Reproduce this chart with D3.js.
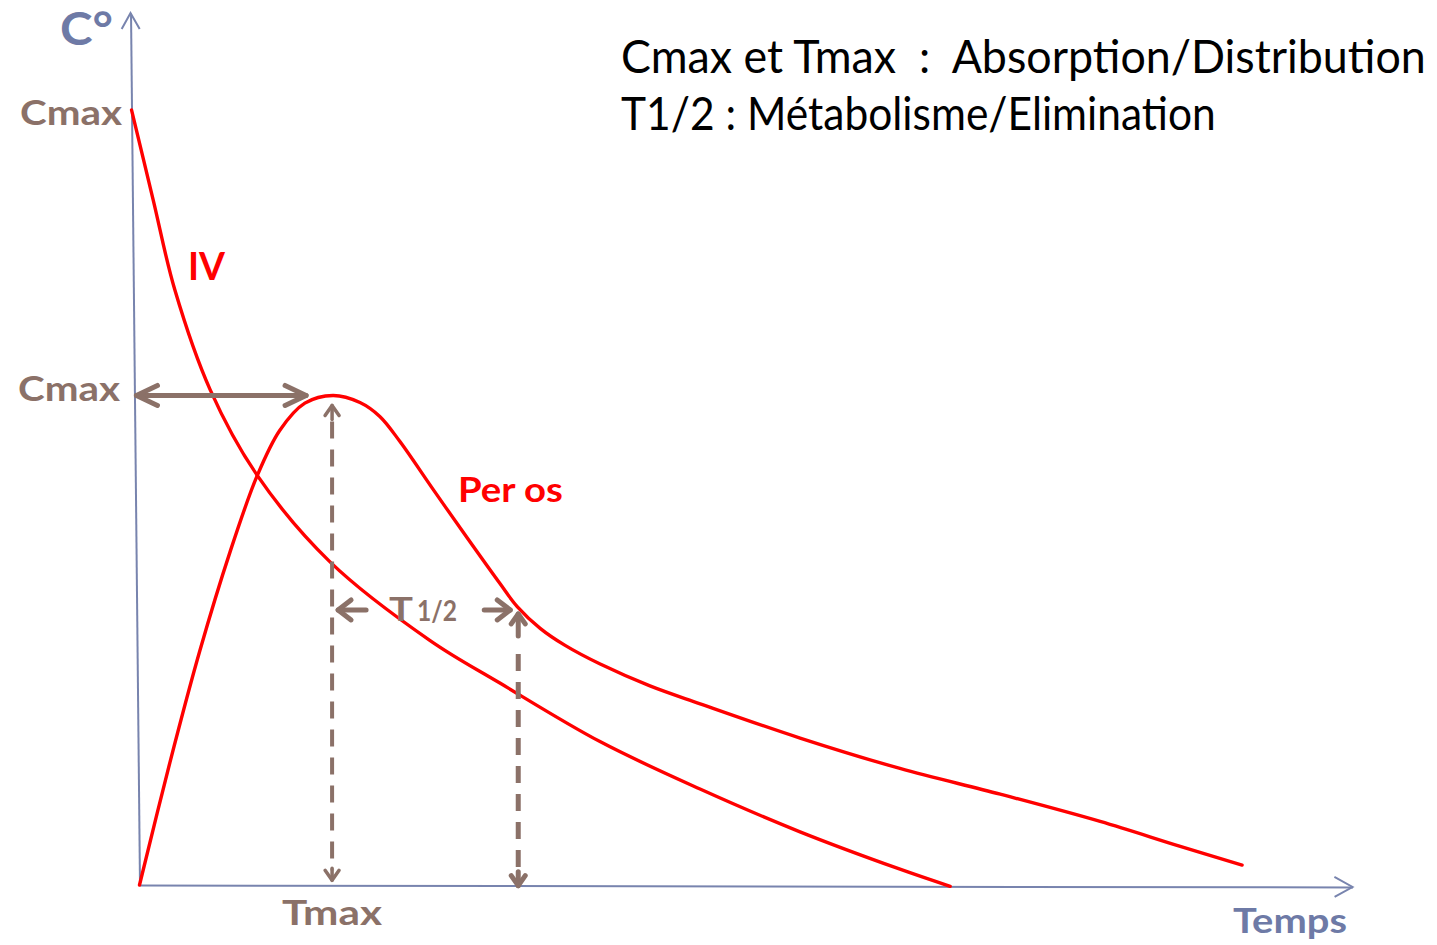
<!DOCTYPE html>
<html><head><meta charset="utf-8">
<script src="https://cdn.jsdelivr.net/npm/d3@7"></script>
<style>html,body{margin:0;padding:0;background:#fff;}svg{display:block;}</style>
</head><body>
<svg id="chart" width="1437" height="945"></svg>
<script>
// ---- data (time in h, concentration in arbitrary units) ----
const ivTime  = [0, 0.41, 0.82, 1.50, 2.41, 3.84, 5.80, 7.18, 9.14, 11.11, 13.08, 15.05, 16.04];
const ivConc  = [100, 88.4, 76.8, 63.9, 52.9, 41.7, 31.6, 26.1, 18.6, 12.5, 7.0, 2.2, 0];
const poTime  = [0, 0.63, 1.24, 1.86, 2.41, 2.87, 3.37, 3.93, 4.46, 4.85, 5.24, 5.89, 6.55, 7.19, 7.53, 7.98, 8.47, 9.16, 10.14, 11.13, 13.10, 15.07, 17.05, 19.02, 20.60, 21.82];
const poConc  = [0, 15.9, 30.2, 43.0, 52.8, 58.7, 62.2, 63.2, 62.3, 60.5, 57.3, 51.1, 44.9, 39.0, 36.0, 33.2, 31.0, 28.6, 25.8, 23.5, 19.1, 15.2, 11.9, 8.4, 5.2, 2.8];
const seriesLabels = ["IV", "Per os"];
const axisLabels = ["C°", "Temps"];
const tmax = 3.93, cmaxPO = 63.2, cmaxIV = 100, tHalf = 7.55, halfLevel = 35.7;
const titleLines = ["Cmax et Tmax  :  Absorption/Distribution", "T1/2 : Métabolisme/Elimination"];

// ---- layout ----
const ox = 139.5, oy = 885, kx = 0.0103, ky = 0.00165;
const x = d3.scaleLinear().domain([0, 24]).range([0, 1213]);
const y = d3.scaleLinear().domain([0, 112.5]).range([0, -872]);
const P = (t, c) => { const lx = x(t), ly = y(c); return [ox + lx + kx * ly, oy + ly + ky * lx]; };

const RED = "#ff0000", BROWN = "#8b7168", BLUE = "#6e7aa6", AXIS = "#7884ae";
const FONT = "Lato, 'Open Sans', sans-serif";
const svg = d3.select("#chart");

// ---- axes (skewed group, like the hand-drawn slide) ----
const g = svg.append("g").attr("transform", `matrix(1,${ky},${kx},1,${ox},${oy})`);
const xAxis = g.append("g").call(d3.axisBottom(x).tickValues([]).tickSizeOuter(0));
const yAxis = g.append("g").call(d3.axisLeft(y).tickValues([]).tickSizeOuter(0));
[xAxis, yAxis].forEach(a => a.select(".domain").attr("stroke", AXIS).attr("stroke-width", 2));
g.append("path").attr("d", `M${x(24)-18},-10 L${x(24)},0 L${x(24)-18},10`)
  .attr("fill", "none").attr("stroke", AXIS).attr("stroke-width", 2);
g.append("path").attr("d", `M-9,${y(112.5)+16} L0,${y(112.5)} L9,${y(112.5)+16}`)
  .attr("fill", "none").attr("stroke", AXIS).attr("stroke-width", 2);

// ---- curves ----
const line = d3.line().x(d => x(d[0])).y(d => y(d[1])).curve(d3.curveCatmullRom.alpha(0.5));
g.append("path").datum(ivTime.map((t, i) => [t, ivConc[i]])).attr("d", line)
  .attr("fill", "none").attr("stroke", RED).attr("stroke-width", 3.4).attr("stroke-linecap", "round");
g.append("path").datum(poTime.map((t, i) => [t, poConc[i]])).attr("d", line)
  .attr("fill", "none").attr("stroke", RED).attr("stroke-width", 3.4).attr("stroke-linecap", "round");

// ---- annotations ----
const ann = svg.append("g").attr("stroke", BROWN).attr("fill", "none").attr("stroke-linecap", "round").attr("stroke-linejoin", "round");
function chevron(tx, ty, dir, len, half, w) {
  let d;
  if (dir === 'l') d = `M${tx+len},${ty-half} L${tx},${ty} L${tx+len},${ty+half}`;
  if (dir === 'r') d = `M${tx-len},${ty-half} L${tx},${ty} L${tx-len},${ty+half}`;
  if (dir === 'u') d = `M${tx-half},${ty+len} L${tx},${ty} L${tx+half},${ty+len}`;
  if (dir === 'd') d = `M${tx-half},${ty-len} L${tx},${ty} L${tx+half},${ty-len}`;
  ann.append("path").attr("d", d).attr("stroke-width", w);
}
// Cmax horizontal double arrow
const [cx0] = P(0, cmaxPO);
const [pkx, pky] = P(tmax, cmaxPO);
const cx0s = cx0 + 2, cx1 = pkx - 27;
ann.append("line").attr("x1", cx0s).attr("x2", cx1).attr("y1", pky).attr("y2", pky).attr("stroke-width", 5);
chevron(cx0s, pky, 'l', 21, 10, 5);
chevron(cx1, pky, 'r', 21, 10, 5);

// Tmax vertical dashed
const tmX = pkx - 1, tmTop = pky + 10, tmBot = P(tmax, 0)[1] - 5;
ann.append("line").attr("x1", tmX).attr("x2", tmX).attr("y1", tmTop + 16).attr("y2", tmBot - 10)
  .attr("stroke-width", 4).attr("stroke-dasharray", "17 11").attr("stroke-linecap", "butt");
ann.append("line").attr("x1", tmX).attr("x2", tmX).attr("y1", tmTop).attr("y2", tmTop + 14).attr("stroke-width", 3.5);
ann.append("line").attr("x1", tmX).attr("x2", tmX).attr("y1", tmBot - 12).attr("y2", tmBot).attr("stroke-width", 3.5);
chevron(tmX, tmTop, 'u', 10, 7, 3.5);
chevron(tmX, tmBot, 'd', 10, 7, 3.5);

// T1/2 vertical dashed
const [hx, hy] = P(tHalf, halfLevel);
const hTop = hy + 5, hBot = P(tHalf, 0)[1];
ann.append("line").attr("x1", hx).attr("x2", hx).attr("y1", hTop + 40).attr("y2", hBot - 14)
  .attr("stroke-width", 5).attr("stroke-dasharray", "17 11").attr("stroke-linecap", "butt");
ann.append("line").attr("x1", hx).attr("x2", hx).attr("y1", hTop).attr("y2", hTop + 22).attr("stroke-width", 5);
ann.append("line").attr("x1", hx).attr("x2", hx).attr("y1", hBot - 14).attr("y2", hBot).attr("stroke-width", 5);
chevron(hx, hTop, 'u', 10, 7, 5);
chevron(hx, hBot, 'd', 10, 7, 5);

// T1/2 horizontal arrows
const ay = hy + 1;
ann.append("line").attr("x1", tmX + 6).attr("x2", tmX + 34).attr("y1", ay).attr("y2", ay).attr("stroke-width", 5);
chevron(tmX + 6, ay, 'l', 13, 10, 5);
ann.append("line").attr("x1", hx - 34).attr("x2", hx - 8).attr("y1", ay).attr("y2", ay).attr("stroke-width", 5);
chevron(hx - 8, ay, 'r', 13, 10, 5);

// ---- texts: natural font, horizontally scaled to the reference width ----
function label(txt, xx, yy, size, color, weight, width) {
  const t = svg.append("text").attr("x", 0).attr("y", 0).text(txt)
    .attr("font-family", FONT).attr("font-size", size).attr("font-weight", weight).attr("fill", color)
    .style("white-space", "pre");
  const w = t.node().getComputedTextLength();
  const sx = width ? width / w : 1;
  t.attr("transform", `translate(${xx},${yy}) scale(${sx},1)`);
  return t;
}
label(axisLabels[0], 60, 45, 46, BLUE, 700, 53);
label("Cmax", 20, 125, 35, BROWN, 700, 102);
label("Cmax", 18, 401, 35, BROWN, 700, 102);
label("Tmax", 282, 925, 35, BROWN, 700, 100);
label(axisLabels[1], 1233, 933, 35, BLUE, 700, 114);
label(seriesLabels[0], 188, 280, 38, RED, 700, 37);
label(seriesLabels[1], 458, 502, 35, RED, 700, 105);
label("T", 389, 621, 33, BROWN, 700, 24);
label("1/2", 417, 621, 28, BROWN, 700, 40);
label(titleLines[0], 621, 73, 47, "#000", 400, 805);
label(titleLines[1], 621, 130, 47, "#000", 400, 595);
</script>
</body></html>
